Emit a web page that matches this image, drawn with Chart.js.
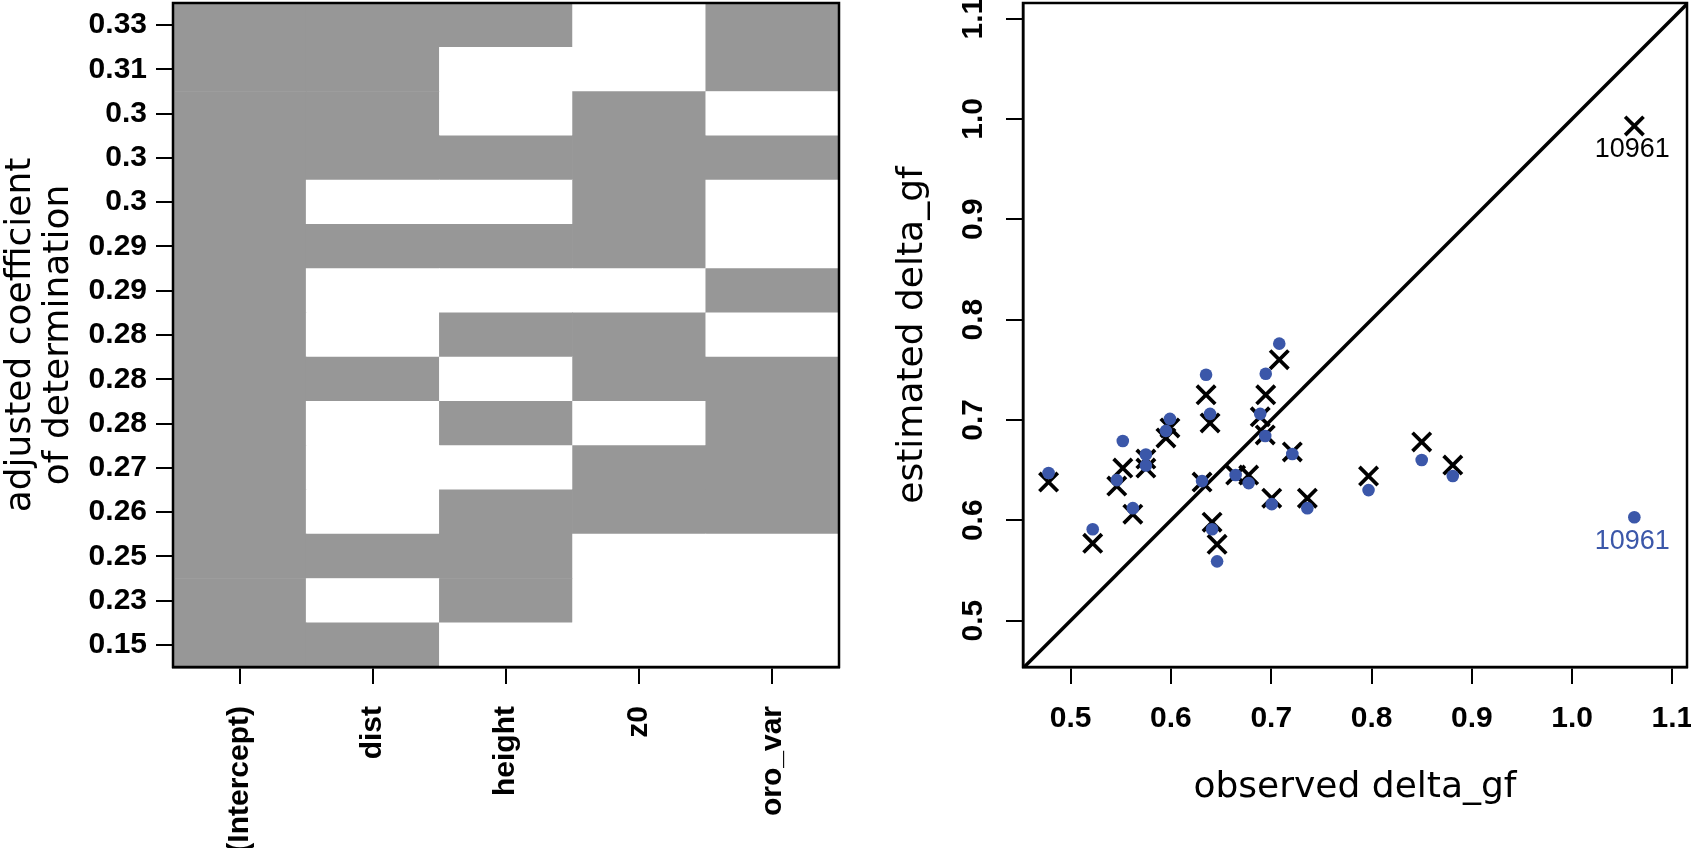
<!DOCTYPE html>
<html>
<head>
<meta charset="utf-8">
<title>Subset selection and delta_gf</title>
<script src="https://cdn.jsdelivr.net/npm/chart.js@4.4.1/dist/chart.umd.min.js"></script>
<style>
  html, body { margin: 0; padding: 0; background: #fff; }
  #wrap { position: relative; width: 1691px; height: 848px; overflow: hidden; }
  #subsetPlot { position: absolute; left: 0; top: 0; }
  #scatterPlot { position: absolute; left: 880px; top: 0; }
</style>
</head>
<body>
<div id="wrap">
  <canvas id="subsetPlot" width="880" height="848"></canvas>
  <canvas id="scatterPlot" width="811" height="848"></canvas>
</div>
<script>
// Left panel: best subsets, one row per model (top = best adjusted R2)
const predictors = ['(Intercept)', 'dist', 'height', 'z0', 'oro_var'];
const adjR2 = ['0.33', '0.31', '0.3', '0.3', '0.3', '0.29', '0.29', '0.28',
               '0.28', '0.28', '0.27', '0.26', '0.25', '0.23', '0.15'];
const included = [
    [1, 1, 1, 0, 1],
    [1, 1, 0, 0, 1],
    [1, 1, 0, 1, 0],
    [1, 1, 1, 1, 1],
    [1, 0, 0, 1, 0],
    [1, 1, 1, 1, 0],
    [1, 0, 0, 0, 1],
    [1, 0, 1, 1, 0],
    [1, 1, 0, 1, 1],
    [1, 0, 1, 0, 1],
    [1, 0, 0, 1, 1],
    [1, 0, 1, 1, 1],
    [1, 1, 1, 0, 0],
    [1, 0, 1, 0, 0],
    [1, 1, 0, 0, 0]
];

// Right panel: observed vs estimated delta_gf
const observed   = [0.478, 0.522, 0.552, 0.546, 0.562, 0.575, 0.575, 0.599, 0.595,
                    0.635, 0.639, 0.631, 0.641, 0.646, 0.708, 0.6945, 0.689, 0.694,
                    0.721, 0.6645, 0.6775, 0.7005, 0.736, 0.797, 0.850, 0.881, 1.062];
const estimatedDots = [0.647, 0.591, 0.679, 0.640, 0.612, 0.6655, 0.6545, 0.701, 0.689,
                    0.745, 0.706, 0.639, 0.591, 0.559, 0.776, 0.746, 0.706, 0.684,
                    0.666, 0.645, 0.637, 0.616, 0.612, 0.630, 0.660, 0.644, 0.603];
const estimatedCrosses = [0.638, 0.577, 0.652, 0.634, 0.606, 0.661, 0.652, 0.692, 0.682,
                    0.725, 0.697, 0.638, 0.598, 0.576, 0.760, 0.725, 0.703, 0.685,
                    0.668, 0.645, 0.645, 0.622, 0.622, 0.644, 0.678, 0.655, 0.993];
const axisTicks = [0.5, 0.6, 0.7, 0.8, 0.9, 1.0, 1.1];
const highlightIndex = 26;
const highlightLabel = '10961';

const grey = '#979797';
const blue = '#3b57a9';
const tickFont = { family: 'Liberation Sans, Arial, sans-serif', size: 30, weight: 'bold' };
const titleFont = { family: 'DejaVu Sans, sans-serif', size: 36, weight: 'normal', lineHeight: 1.067 };

// full box around the plotting region
const boxPlugin = {
    id: 'box',
    afterDraw(chart) {
        const { ctx, chartArea: a } = chart;
        ctx.save();
        ctx.strokeStyle = '#000';
        ctx.lineWidth = 2.5;
        ctx.strokeRect(a.left, a.top, a.right - a.left, a.bottom - a.top);
        ctx.restore();
    }
};

// fixed axis sizes, no automatic label padding
function fixSize(s, w, h) {
    if (w !== null) s.width = w;
    if (h !== null) s.height = h;
    s.paddingTop = 0;
    s.paddingBottom = 0;
    s.paddingLeft = 0;
    s.paddingRight = 0;
}

const tickGrid = {
    drawOnChartArea: false,
    drawTicks: true,
    tickLength: 17,
    lineWidth: 2,
    color: '#000'
};
const axisBorder = { display: true, color: '#000', width: 2.5 };

// Heatmap as stacked bars, bottom row first
const rowCount = adjR2.length;
const heatDatasets = included.slice().reverse().map((row, k) => ({
    label: adjR2[rowCount - 1 - k],
    data: row.map(() => 1),
    backgroundColor: row.map(v => v ? grey : '#ffffff'),
    borderWidth: 0,
    barPercentage: 1,
    categoryPercentage: 1,
    stack: 'models'
}));

new Chart(document.getElementById('subsetPlot'), {
    type: 'bar',
    data: { labels: predictors, datasets: heatDatasets },
    options: {
        responsive: false,
        animation: false,
        devicePixelRatio: 1,
        layout: { autoPadding: false, padding: { top: 3, right: 41, left: 0, bottom: 0 } },
        plugins: { legend: { display: false }, tooltip: { enabled: false } },
        scales: {
            x: {
                stacked: true,
                grid: Object.assign({ offset: false }, tickGrid),
                border: axisBorder,
                ticks: { color: '#000', font: tickFont, minRotation: 90, maxRotation: 90, padding: 22, autoSkip: false },
                afterFit: s => fixSize(s, null, 181)
            },
            y: {
                stacked: true,
                min: 0,
                max: rowCount,
                afterBuildTicks: s => { s.ticks = adjR2.map((_, i) => ({ value: rowCount - i - 0.5 })); },
                grid: tickGrid,
                border: axisBorder,
                ticks: {
                    color: '#000', font: tickFont, padding: 9, autoSkip: false,
                    callback: v => adjR2[Math.round(rowCount - 0.5 - v)]
                },
                title: {
                    display: true,
                    text: ['adjusted coefficient', 'of determination'],
                    color: '#000',
                    font: titleFont,
                    padding: { top: 1, bottom: 0 }
                },
                afterFit: s => fixSize(s, 173, null)
            }
        }
    },
    plugins: [boxPlugin]
});

// station id written under the highlighted points
const tagPlugin = {
    id: 'tags',
    afterDatasetsDraw(chart) {
        const { ctx } = chart;
        ctx.save();
        ctx.font = '27px "Liberation Sans", Arial, sans-serif';
        ctx.textAlign = 'center';
        ctx.textBaseline = 'middle';
        [0, 1].forEach(di => {
            const el = chart.getDatasetMeta(di).data[highlightIndex];
            ctx.fillStyle = di === 0 ? blue : '#000';
            ctx.fillText(highlightLabel, el.x - 2, el.y + 24);
        });
        ctx.restore();
    }
};

const dots = observed.map((x, i) => ({ x: x, y: estimatedDots[i] }));
const crosses = observed.map((x, i) => ({ x: x, y: estimatedCrosses[i] }));
const axisMin = 0.4525, axisMax = 1.1145;
const identity = [axisMin, axisMax].map(v => ({ x: v, y: v }));

new Chart(document.getElementById('scatterPlot'), {
    type: 'scatter',
    data: {
        datasets: [
            {
                label: 'estimated',
                data: dots,
                pointStyle: 'circle',
                pointRadius: 6.3,
                pointBorderWidth: 0,
                backgroundColor: blue,
                borderColor: blue
            },
            {
                label: 'estimated (cross)',
                data: crosses,
                pointStyle: 'crossRot',
                pointRadius: 13,
                pointBorderWidth: 3.7,
                borderColor: '#000',
                backgroundColor: '#000'
            },
            {
                type: 'line',
                label: '1:1',
                data: identity,
                borderColor: '#000',
                borderWidth: 3.5,
                pointRadius: 0,
                fill: false
            }
        ]
    },
    options: {
        responsive: false,
        animation: false,
        devicePixelRatio: 1,
        layout: { autoPadding: false, padding: { top: 3, right: 4, left: 0, bottom: 0 } },
        plugins: { legend: { display: false }, tooltip: { enabled: false } },
        scales: {
            x: {
                type: 'linear',
                min: axisMin,
                max: axisMax,
                afterBuildTicks: s => { s.ticks = axisTicks.map(v => ({ value: v })); },
                grid: tickGrid,
                border: axisBorder,
                ticks: { color: '#000', font: tickFont, padding: 17, autoSkip: false, maxRotation: 0, minRotation: 0,
                         callback: v => v.toFixed(1) },
                title: { display: true, text: 'observed delta_gf', color: '#000', font: titleFont,
                         padding: { top: 0, bottom: 41 } },
                afterFit: s => fixSize(s, null, 181)
            },
            y: {
                type: 'linear',
                min: 0.4537,
                max: 1.1155,
                afterBuildTicks: s => { s.ticks = axisTicks.map(v => ({ value: v })); },
                grid: tickGrid,
                border: axisBorder,
                ticks: { color: '#000', font: tickFont, padding: 11, autoSkip: false, minRotation: 90, maxRotation: 90,
                         crossAlign: 'center', callback: v => v.toFixed(1) },
                title: { display: true, text: 'estimated delta_gf', color: '#000', font: titleFont,
                         padding: { top: 13, bottom: 0 } },
                afterFit: s => fixSize(s, 143, null)
            }
        }
    },
    plugins: [boxPlugin, tagPlugin]
});
</script>
</body>
</html>
